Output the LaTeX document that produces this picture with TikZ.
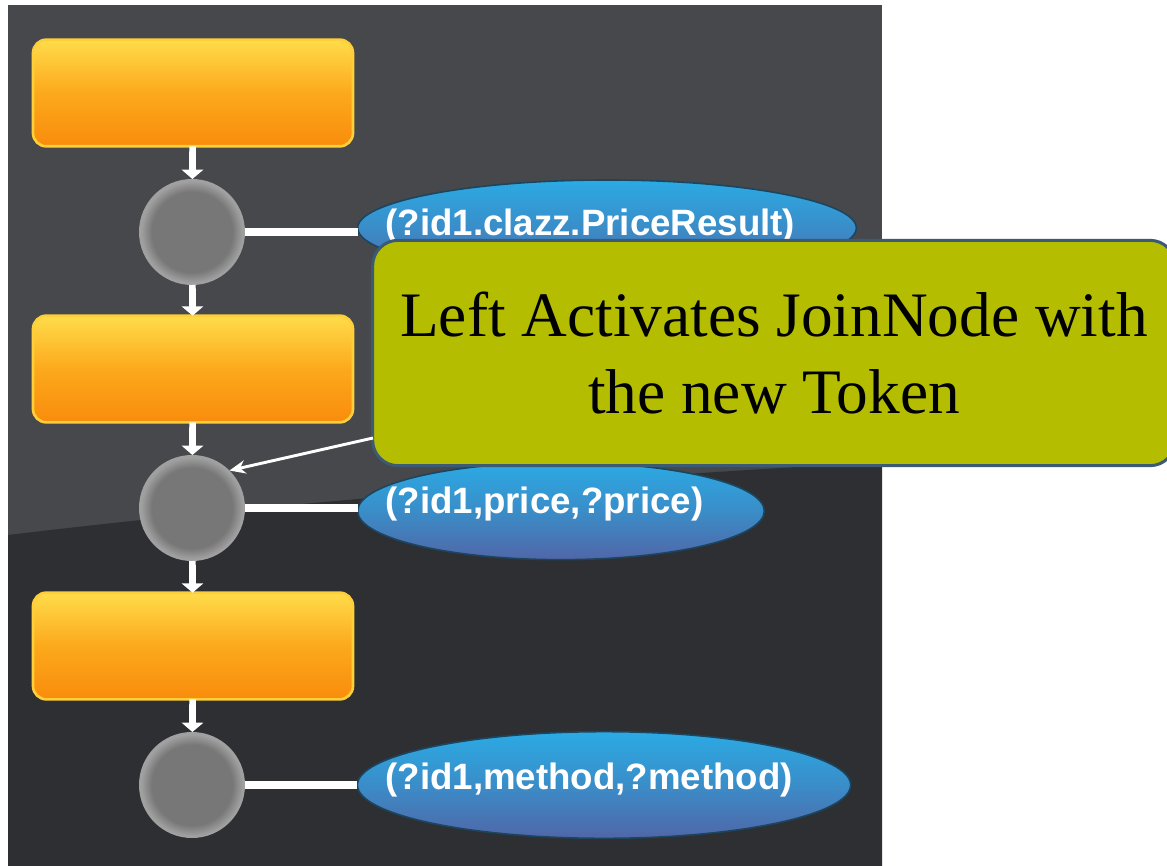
\documentclass[tikz,border=0pt]{standalone}
\usepackage{fontspec}
\setmainfont{Liberation Serif}
\newfontfamily\tokenfont{Liberation Sans}
\usetikzlibrary{arrows.meta,shapes.geometric}

\definecolor{panelTop}{HTML}{46484B}
\definecolor{panelLow}{HTML}{2D2F33}
\definecolor{boxTop}{HTML}{FFDC4A}
\definecolor{boxMid}{HTML}{FCA91C}
\definecolor{boxBot}{HTML}{F98C0C}
\definecolor{boxRim}{HTML}{FFCF3A}
\definecolor{ballIn}{HTML}{777777}
\definecolor{ballOut}{HTML}{A0A0A0}
\definecolor{capTop}{HTML}{2BAAE4}
\definecolor{capMid}{HTML}{3A8DC8}
\definecolor{capBot}{HTML}{5166A8}
\definecolor{capRim}{HTML}{1C4660}
\definecolor{noteFill}{HTML}{B5BD00}
\definecolor{noteRim}{HTML}{3B5A73}

\pgfdeclareradialshading{ballshade}{\pgfpoint{0bp}{0bp}}{color(0bp)=(ballIn); color(19bp)=(ballIn); color(24bp)=(ballOut); color(50bp)=(ballOut)}

\tikzset{every picture/.style={line width=0.75pt}}

\begin{document}
\begin{tikzpicture}[x=0.75pt,y=0.75pt,yscale=-1,xscale=1,
  betabox/.style={rectangle, rounded corners=10pt, minimum width=240pt, minimum height=80pt, outer sep=0pt, draw=boxRim, line width=2pt, top color=boxTop, bottom color=boxBot, middle color=boxMid},
  joinball/.style={circle, minimum size=79.5pt, inner sep=0pt, outer sep=0pt, shading=ballshade},
  alphacap/.style={ellipse, inner sep=0pt, outer sep=0pt, draw=capRim, line width=1.2pt, top color=capTop, bottom color=capBot, middle color=capMid},
  captext/.style={anchor=west, inner sep=0pt, text=white, font=\tokenfont\bfseries\fontsize{27.5}{30}\selectfont},
  flowarrow/.style={draw=white, line width=5pt, -{Triangle[length=7pt,width=16pt]}},
  capline/.style={draw=white, line width=6pt},
  noteline/.style={draw=white, line width=2.2pt, -{Stealth[length=12pt,width=10pt]}}]
	\useasboundingbox (0,0) rectangle (1167,866);

	%Shape: Panel 
	\fill[panelTop] (8,5) rectangle (882,866);
	\fill[panelLow] (8,535) .. controls (300,500) and (600,478) .. (882,462) -- (882,866) -- (8,866) -- cycle;

	%Beta memory boxes 
	\node[betabox] (box1) at (193,93) {};
	\node[betabox] (box2) at (193,369) {};
	\node[betabox] (box3) at (193,646) {};

	%Join nodes 
	\node[joinball] (ball1) at (192,232) {};
	\node[joinball] (ball2) at (192,508) {};
	\node[joinball] (ball3) at (192,785) {};

	%Alpha patterns 
	\node[alphacap, minimum width=374pt, minimum height=72pt] (cap1) at (607,228) {};
	\node[alphacap, minimum width=305pt, minimum height=73pt] (cap2) at (561,511) {};
	\node[alphacap, minimum width=370pt, minimum height=80pt] (cap3) at (604,785) {};

	% Text Node
	\node[captext] (txt1) at (385,226) {(?id1.clazz.PriceResult)};
	% Text Node
	\node[captext] (txt2) at (385,504) {(?id1,price,?price)};
	% Text Node
	\node[captext] (txt3) at (385,780) {(?id1,method,?method)};

	%Straight Lines 
	\draw[flowarrow] (box1) -- (ball1);
	\draw[flowarrow] (ball1) -- (box2);
	\draw[flowarrow] (box2) -- (ball2);
	\draw[flowarrow] (ball2) -- (box3);
	\draw[flowarrow] (box3) -- (ball3);
	\draw[capline] (ball1.east) -- (ball1.east -| cap1.west);
	\draw[capline] (ball2.east) -- (ball2.east -| cap2.west);
	\draw[capline] (ball3.east) -- (ball3.east -| cap3.west);

	%Shape: Callout 
	\node[rectangle, rounded corners=19pt, draw=noteRim, line width=2.25pt, fill=noteFill, minimum width=602pt, minimum height=169pt, outer sep=0pt, align=center, font=\fontsize{47.5}{58}\selectfont] (note) at (774,353) {Left Activates JoinNode with\\the new Token};
	\coordinate (notetail) at (373,438);
	\draw[noteline] (notetail) -- (ball2.45);

\end{tikzpicture}
\end{document}
